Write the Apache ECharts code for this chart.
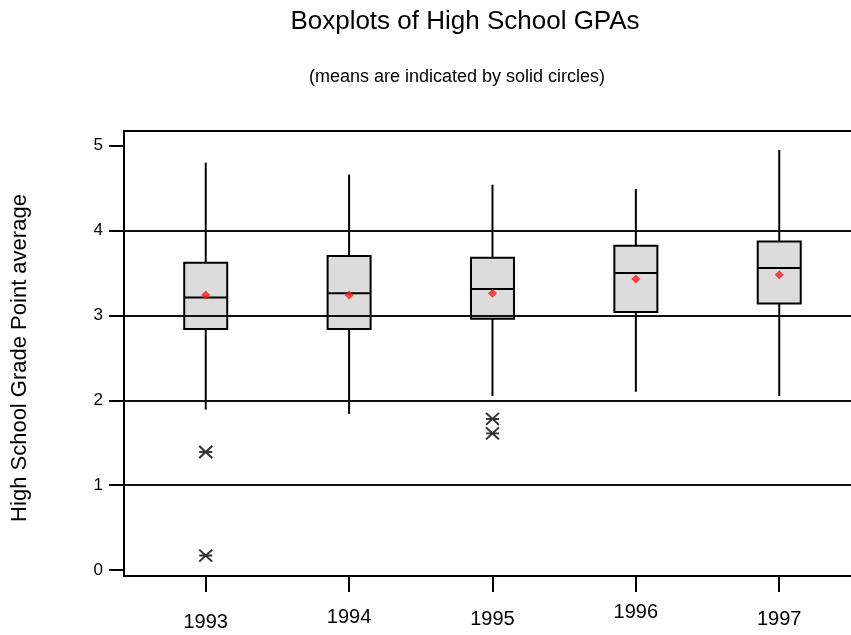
<!DOCTYPE html>
<html>
<head>
<meta charset="utf-8">
<script src="https://cdn.jsdelivr.net/npm/echarts@6/dist/echarts.min.js"></script>
<style>
html, body { margin: 0; padding: 0; background: #fff; }
#chart { width: 851px; height: 635px; }
</style>
</head>
<body>
<div id="chart"></div>
<script>
const years = [1993, 1994, 1995, 1996, 1997];
const yearLabels = ['1993', '1994', '1995', '1996', '1997'];
const lowWhisker = [1.89, 1.84, 2.05, 2.10, 2.05];
const q1 = [2.84, 2.84, 2.96, 3.04, 3.14];
const median = [3.21, 3.26, 3.31, 3.50, 3.56];
const q3 = [3.62, 3.70, 3.68, 3.82, 3.87];
const highWhisker = [4.80, 4.66, 4.54, 4.49, 4.95];
const means = [3.24, 3.24, 3.26, 3.43, 3.48];
const outlierYears = [1993, 1993, 1995, 1995];
const outlierValues = [1.39, 0.17, 1.78, 1.61];
const yTicks = [0, 1, 2, 3, 4, 5];
const gridValues = [1, 2, 3, 4];

const FONT = '"Liberation Sans", Arial, sans-serif';
// per-label vertical jitter styles (as in reference)
const labelRich = {
  a: { fontSize: 20, fontFamily: FONT, color: '#000', padding: [10, 0, 0, 0] },
  b: { fontSize: 20, fontFamily: FONT, color: '#000', padding: [5, 0, 0, 0] },
  c: { fontSize: 20, fontFamily: FONT, color: '#000', padding: [7, 0, 0, 0] },
  d: { fontSize: 20, fontFamily: FONT, color: '#000', padding: [0, 0, 0, 0] },
  e: { fontSize: 20, fontFamily: FONT, color: '#000', padding: [7, 0, 0, 0] }
};
const richKeys = ['a', 'b', 'c', 'd', 'e'];
const BOX_W = 43;
const X_MIN = 1992.43, X_MAX = 1997.64;

const boxData = years.map((y, i) => [y, lowWhisker[i], q1[i], median[i], q3[i], highWhisker[i]]);
const meanData = years.map((y, i) => [y, means[i]]);
const outlierData = outlierYears.map((y, i) => [y, outlierValues[i]]);

function renderBox(params, api) {
  const x = api.value(0);
  const pLow = api.coord([x, api.value(1)]);
  const pQ1 = api.coord([x, api.value(2)]);
  const pMed = api.coord([x, api.value(3)]);
  const pQ3 = api.coord([x, api.value(4)]);
  const pHigh = api.coord([x, api.value(5)]);
  const cx = pLow[0];
  const half = BOX_W / 2;
  const stroke = { stroke: '#000', lineWidth: 2 };
  return {
    type: 'group',
    children: [
      { type: 'line', shape: { x1: cx, y1: pLow[1], x2: cx, y2: pQ1[1] }, style: stroke },
      { type: 'line', shape: { x1: cx, y1: pQ3[1], x2: cx, y2: pHigh[1] }, style: stroke },
      { type: 'rect', shape: { x: cx - half, y: pQ3[1], width: BOX_W, height: pQ1[1] - pQ3[1] },
        style: { fill: '#dcdcdc', stroke: '#000', lineWidth: 2 } },
      { type: 'line', shape: { x1: cx - half, y1: pMed[1], x2: cx + half, y2: pMed[1] }, style: stroke }
    ]
  };
}

const chart = echarts.init(document.getElementById('chart'), null, { renderer: 'canvas' });
chart.setOption({
  animation: false,
  backgroundColor: '#fff',
  graphic: [
    { type: 'text', x: 465, y: 22, style: { text: 'Boxplots of High School GPAs', font: '26px ' + FONT, fill: '#000', textAlign: 'center', textVerticalAlign: 'middle' } },
    { type: 'text', x: 457, y: 77, style: { text: '(means are indicated by solid circles)', font: '18px ' + FONT, fill: '#000', textAlign: 'center', textVerticalAlign: 'middle' } },
    { type: 'text', x: 20, y: 358, rotation: Math.PI / 2, style: { text: 'High School Grade Point average', font: '22px ' + FONT, fill: '#000', textAlign: 'center', textVerticalAlign: 'middle' } }
  ],
  grid: {
    left: 124, top: 131, bottom: 59, width: 747,
    outerBoundsMode: 'none', containLabel: false,
    show: false
  },
  xAxis: [
    {
      type: 'value',
      min: X_MIN, max: X_MAX,
      axisLine: { show: true, onZero: false, lineStyle: { color: '#000', width: 2 } },
      axisTick: { show: true, length: 16, customValues: years, lineStyle: { color: '#000', width: 2 } },
      axisLabel: {
        show: true, margin: 26, customValues: years,
        formatter: function (v) {
          const i = years.indexOf(Math.round(v));
          return i >= 0 ? '{' + richKeys[i] + '|' + yearLabels[i] + '}' : '';
        },
        rich: labelRich
      },
      splitLine: { show: false }
    },
    {
      type: 'value', position: 'top',
      min: X_MIN, max: X_MAX,
      axisLine: { show: true, onZero: false, lineStyle: { color: '#000', width: 2 } },
      axisTick: { show: false }, axisLabel: { show: false }, splitLine: { show: false }
    }
  ],
  yAxis: {
    type: 'value',
    min: -0.0707, max: 5.173,
    axisLine: { show: true, onZero: false, lineStyle: { color: '#000', width: 2 } },
    axisTick: { show: true, length: 15, customValues: yTicks, lineStyle: { color: '#000', width: 2 } },
    axisLabel: { show: true, margin: 21, customValues: yTicks, fontSize: 17, fontFamily: FONT, color: '#000' },
    splitLine: { show: false }
  },
  series: [
    {
      type: 'custom',
      renderItem: renderBox,
      data: boxData,
      encode: { x: 0, y: [1, 2, 3, 4, 5] },
      markLine: {
        silent: true, symbol: 'none', label: { show: false },
        lineStyle: { color: '#111', width: 2, type: 'solid' },
        data: gridValues.map(v => ({ yAxis: v }))
      },
      z: 3
    },
    {
      type: 'scatter',
      data: meanData,
      symbol: 'diamond',
      symbolSize: 9,
      itemStyle: { color: '#ff1a1a' },
      z: 5
    },
    {
      type: 'scatter',
      data: outlierData,
      symbol: 'path://M0,0L10,10M10,0L0,10M0,5L10,5',
      symbolSize: [13, 12],
      itemStyle: { color: 'none', borderColor: '#000', borderWidth: 2 },
      z: 5
    }
  ]
});
</script>
</body>
</html>
